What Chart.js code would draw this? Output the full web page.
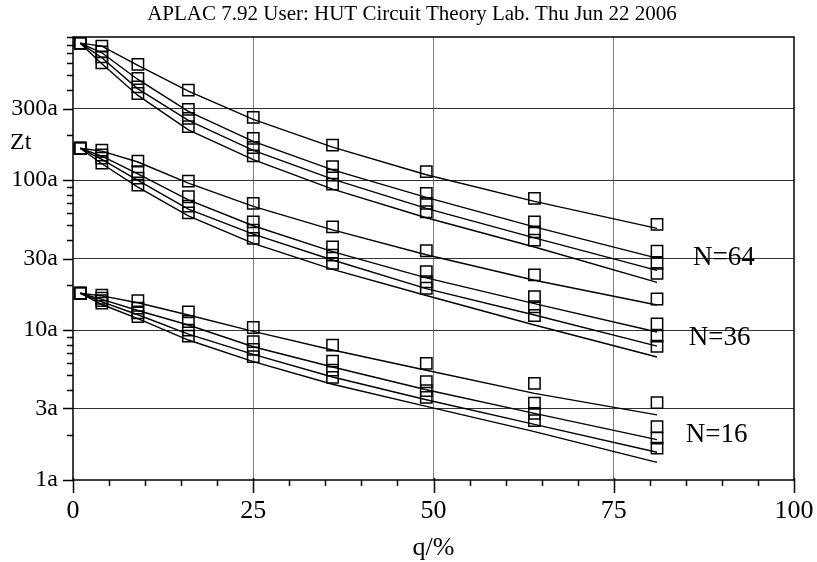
<!DOCTYPE html>
<html>
<head>
<meta charset="utf-8">
<title>APLAC Zt / q</title>
<script src="https://cdn.jsdelivr.net/npm/chart.js@4.4.0/dist/chart.umd.min.js"></script>
<style>
  html, body { margin: 0; padding: 0; background: #fff; }
  canvas { display: block; }
</style>
</head>
<body>
<canvas id="ztChart" width="817" height="562"></canvas>
<script>
// q/% sample positions
const qValues = [1, 4, 9, 16, 25, 36, 49, 64, 81];

// measured Zt (square markers), 4 curves per group
const n64Marks = [
  [819, 782, 591, 398, 262, 171, 114, 75.5, 50.7],
  [819, 717, 476, 296, 190, 123, 81.5, 52.7, 33.6],
  [819, 664, 419, 258, 165, 108, 70, 45.2, 27.8],
  [819, 605, 378, 227, 145, 94, 61.5, 39.8, 23.9]
];
const n36Marks = [
  [163, 158.5, 134, 98.5, 70, 48.8, 33.8, 23.3, 16.1],
  [163, 147, 114, 77.4, 52.7, 35.9, 24.5, 16.7, 11.0],
  [163, 140, 103, 67.1, 46.4, 31.6, 21.0, 14.3, 9.1],
  [163, 130, 92.6, 60.5, 40.9, 27.8, 19.0, 12.5, 7.8]
];
const n16Marks = [
  [17.6, 17.1, 15.7, 13.2, 10.4, 7.94, 6.0, 4.41, 3.28],
  [17.6, 16.3, 14.0, 11.4, 8.36, 6.21, 4.52, 3.25, 2.27],
  [17.6, 15.7, 13.0, 10.0, 7.44, 5.41, 3.94, 2.78, 1.90],
  [17.6, 15.1, 12.3, 9.1, 6.64, 4.84, 3.56, 2.49, 1.63]
];

// simulated Zt (solid lines)
const n64Lines = [
  [819, 782, 582, 392, 254, 166, 108.5, 72.1, 47.6],
  [819, 706, 469, 287, 181, 117, 76.7, 48.8, 30.2],
  [819, 654, 406, 250, 158, 101.5, 64.8, 41.2, 25.0],
  [819, 596, 367, 216, 137, 87.1, 56.1, 35.8, 20.8]
];
const n36Lines = [
  [163, 156, 132, 95.5, 66.8, 46.6, 31.8, 21.5, 14.7],
  [163, 144.5, 110, 73.9, 49.6, 33.3, 22.3, 15.0, 9.70],
  [163, 137.4, 99.5, 64.1, 43.6, 29.3, 18.9, 12.6, 7.82],
  [163, 128.5, 89.8, 57.8, 37.8, 25.4, 17.0, 10.8, 6.61]
];
const n16Lines = [
  [17.6, 16.9, 15.2, 12.6, 9.80, 7.36, 5.39, 3.78, 2.72],
  [17.6, 16.0, 13.5, 10.8, 7.74, 5.67, 4.00, 2.78, 1.86],
  [17.6, 15.4, 12.65, 9.40, 6.89, 4.86, 3.43, 2.35, 1.53],
  [17.6, 14.8, 11.9, 8.58, 6.15, 4.35, 3.10, 2.10, 1.31]
];

// axis ticks
const yMajorTicks = [1, 3, 10, 30, 100, 300];
const yMinorTicks = [2, 4, 5, 6, 7, 8, 9, 20, 40, 50, 60, 70, 80, 90, 200, 400, 500, 600, 700, 800, 900];
const xMajorTicks = [0, 25, 50, 75, 100];

// group labels and where they sit (q, Zt)
const groupNames = ['N=64', 'N=36', 'N=16'];
const groupLabelAt = [[86, 30.3], [85.4, 8.84], [85, 2.0]];

const SERIF = "'Liberation Serif', 'Times New Roman', serif";

function toPoints(vals) {
  return qValues.map((q, i) => ({ x: q, y: vals[i] }));
}

const datasets = [];
[n64Lines, n36Lines, n16Lines].forEach(group => {
  group.forEach(vals => {
    datasets.push({
      data: toPoints(vals),
      borderColor: '#000',
      borderWidth: 1.4,
      pointRadius: 0,
      tension: 0,
      fill: false
    });
  });
});
[n64Marks, n36Marks, n16Marks].forEach(group => {
  group.forEach(vals => {
    datasets.push({
      data: toPoints(vals),
      showLine: false,
      pointStyle: 'rect',
      pointRadius: 8,
      pointBorderWidth: 1.5,
      pointBorderColor: '#000',
      pointBackgroundColor: 'rgba(0,0,0,0)'
    });
  });
});

// frame, tick marks and free text
const decorations = {
  id: 'decorations',
  afterDraw(chart) {
    const { ctx, chartArea: a, scales: { x, y } } = chart;
    ctx.save();
    ctx.strokeStyle = '#000';
    ctx.lineWidth = 1.5;
    ctx.beginPath();
    yMajorTicks.concat(yMinorTicks).forEach(v => {
      const py = Math.round(y.getPixelForValue(v)) + 0.5;
      const len = yMajorTicks.includes(v) ? 10 : 6;
      ctx.moveTo(a.left - len, py);
      ctx.lineTo(a.left, py);
    });
    for (let v = 0; v <= 100; v += 5) {
      const px = Math.round(x.getPixelForValue(v)) + 0.5;
      const major = xMajorTicks.includes(v);
      ctx.moveTo(px, a.bottom - (major ? 2 : 0));
      ctx.lineTo(px, a.bottom + (major ? 13 : 6));
    }
    ctx.stroke();
    ctx.strokeRect(a.left, a.top, a.right - a.left, a.bottom - a.top);

    ctx.fillStyle = '#000';
    ctx.textBaseline = 'middle';
    ctx.textAlign = 'center';
    ctx.font = '21px ' + SERIF;
    ctx.fillText('APLAC 7.92 User: HUT Circuit Theory Lab. Thu Jun 22 2006', 412, 14);
    ctx.font = '26px ' + SERIF;
    ctx.fillText('q/%', (a.left + a.right) / 2, 548);
    ctx.textAlign = 'left';
    ctx.font = '24px ' + SERIF;
    ctx.fillText('Zt', 10, 143);
    ctx.font = '27px ' + SERIF;
    groupNames.forEach((name, i) => {
      const [q, z] = groupLabelAt[i];
      ctx.fillText(name, x.getPixelForValue(q), y.getPixelForValue(z));
    });
    ctx.restore();
  }
};

new Chart(document.getElementById('ztChart'), {
  type: 'line',
  data: { datasets },
  options: {
    responsive: false,
    animation: false,
    layout: { padding: { top: 37, right: 23, left: 0, bottom: 0 } },
    plugins: { legend: { display: false }, tooltip: { enabled: false } },
    scales: {
      x: {
        type: 'linear',
        min: 0,
        max: 100,
        afterFit: s => { s.height = 82; s.paddingLeft = 0; s.paddingRight = 0; },
        ticks: {
          stepSize: 5,
          autoSkip: false,
          maxRotation: 0,
          padding: 16,
          color: '#000',
          font: { family: SERIF, size: 26 },
          callback: v => (v % 25 === 0 ? String(v) : '')
        },
        grid: {
          drawTicks: false,
          lineWidth: 1,
          color: c => ([25, 50, 75].includes(c.tick && c.tick.value) ? '#808080' : 'rgba(0,0,0,0)')
        },
        border: { display: false }
      },
      y: {
        type: 'logarithmic',
        min: 1,
        max: 900,
        afterFit: s => { s.width = 73; s.paddingTop = 0; s.paddingBottom = 0; },
        afterBuildTicks: s => {
          s.ticks = yMajorTicks.concat(yMinorTicks).sort((p, q) => p - q).map(v => ({ value: v }));
        },
        ticks: {
          autoSkip: false,
          padding: 15,
          color: '#000',
          font: { family: SERIF, size: 24 },
          callback: v => (yMajorTicks.includes(v) ? v + 'a' : '')
        },
        grid: {
          drawTicks: false,
          lineWidth: 1,
          color: c => ([3, 10, 30, 100, 300].includes(c.tick && c.tick.value) ? '#333' : 'rgba(0,0,0,0)')
        },
        border: { display: false }
      }
    }
  },
  plugins: [decorations]
});
</script>
</body>
</html>
